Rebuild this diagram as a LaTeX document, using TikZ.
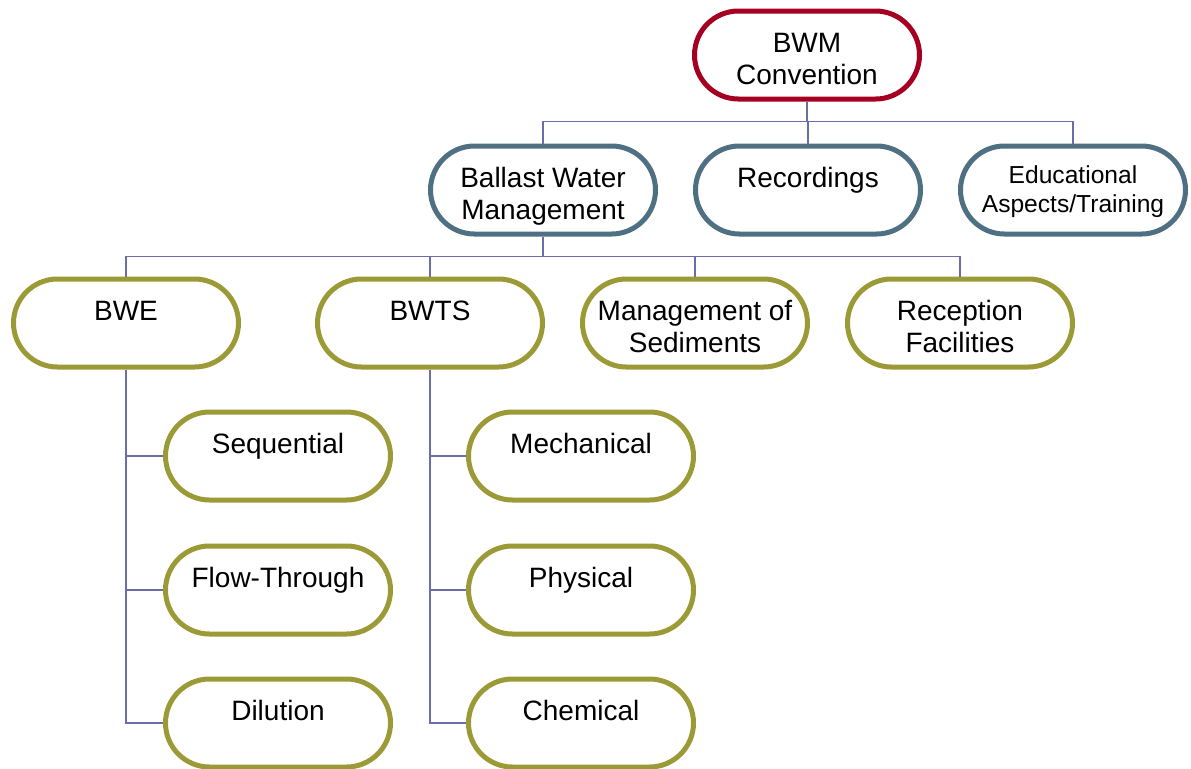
\documentclass[tikz,border=0pt]{standalone}
\usepackage{fontspec}
\setmainfont{Liberation Sans}
\usetikzlibrary{positioning}
\definecolor{topred}{HTML}{A50021}
\definecolor{midblue}{HTML}{4F6F82}
\definecolor{leafolive}{HTML}{9B9A36}
\definecolor{linkpurple}{HTML}{6D6DA5}
\tikzstyle{pill}=[draw,fill=white,line width=2.5pt,rounded corners=22pt,minimum width=112.5pt,minimum height=44pt,inner sep=0pt,align=center,text height=30pt,text depth=0.5pt,font=\fontsize{14}{16}\selectfont]
\tikzstyle{head}=[pill,draw=topred]
\tikzstyle{branch}=[pill,draw=midblue]
\tikzstyle{small}=[text height=23pt,text depth=0.2pt,font=\fontsize{12.3}{14.5}\selectfont]
\tikzstyle{leaf}=[pill,draw=leafolive]
\tikzstyle{link}=[linkpurple,line width=0.75pt]

\begin{document}
\begin{tikzpicture}[x=0.5pt,y=-0.5pt]
\useasboundingbox (0,0) rectangle (1191,768);
% root
\node[head] (bwm) at (807,55) {BWM\\Convention};
% second level
\node[branch] (bwmgt) at (543,190) {Ballast Water\\Management};
\node[branch] (rec) at (808,190) {Recordings\\~};
\node[branch,small] (edu) at (1073,190) {Educational\\Aspects/Training};
% third level
\node[leaf] (bwe) at (126,323) {BWE\\~};
\node[leaf] (bwts) at (430,323) {BWTS\\~};
\node[leaf] (sed) at (695,323) {Management of\\Sediments};
\node[leaf] (recp) at (960,323) {Reception\\Facilities};
% methods
\node[leaf] (seq) at (278,456) {Sequential\\~};
\node[leaf] (flow) at (278,590) {Flow-Through\\~};
\node[leaf] (dil) at (278,723) {Dilution\\~};
\node[leaf] (mech) at (581,456) {Mechanical\\~};
\node[leaf] (phys) at (581,590) {Physical\\~};
\node[leaf] (chem) at (581,723) {Chemical\\~};
% connectors
\foreach \n in {bwmgt,rec,edu}
    \draw[link] (bwm.south) -- ++(0,20) -| (\n.north);
\foreach \n in {bwe,bwts,sed,recp}
    \draw[link] (bwmgt.south) -- ++(0,20) -| (\n.north);
\foreach \n in {seq,flow,dil}
    \draw[link] (bwe.south) |- (\n.west);
\foreach \n in {mech,phys,chem}
    \draw[link] (bwts.south) |- (\n.west);
\end{tikzpicture}
\end{document}
